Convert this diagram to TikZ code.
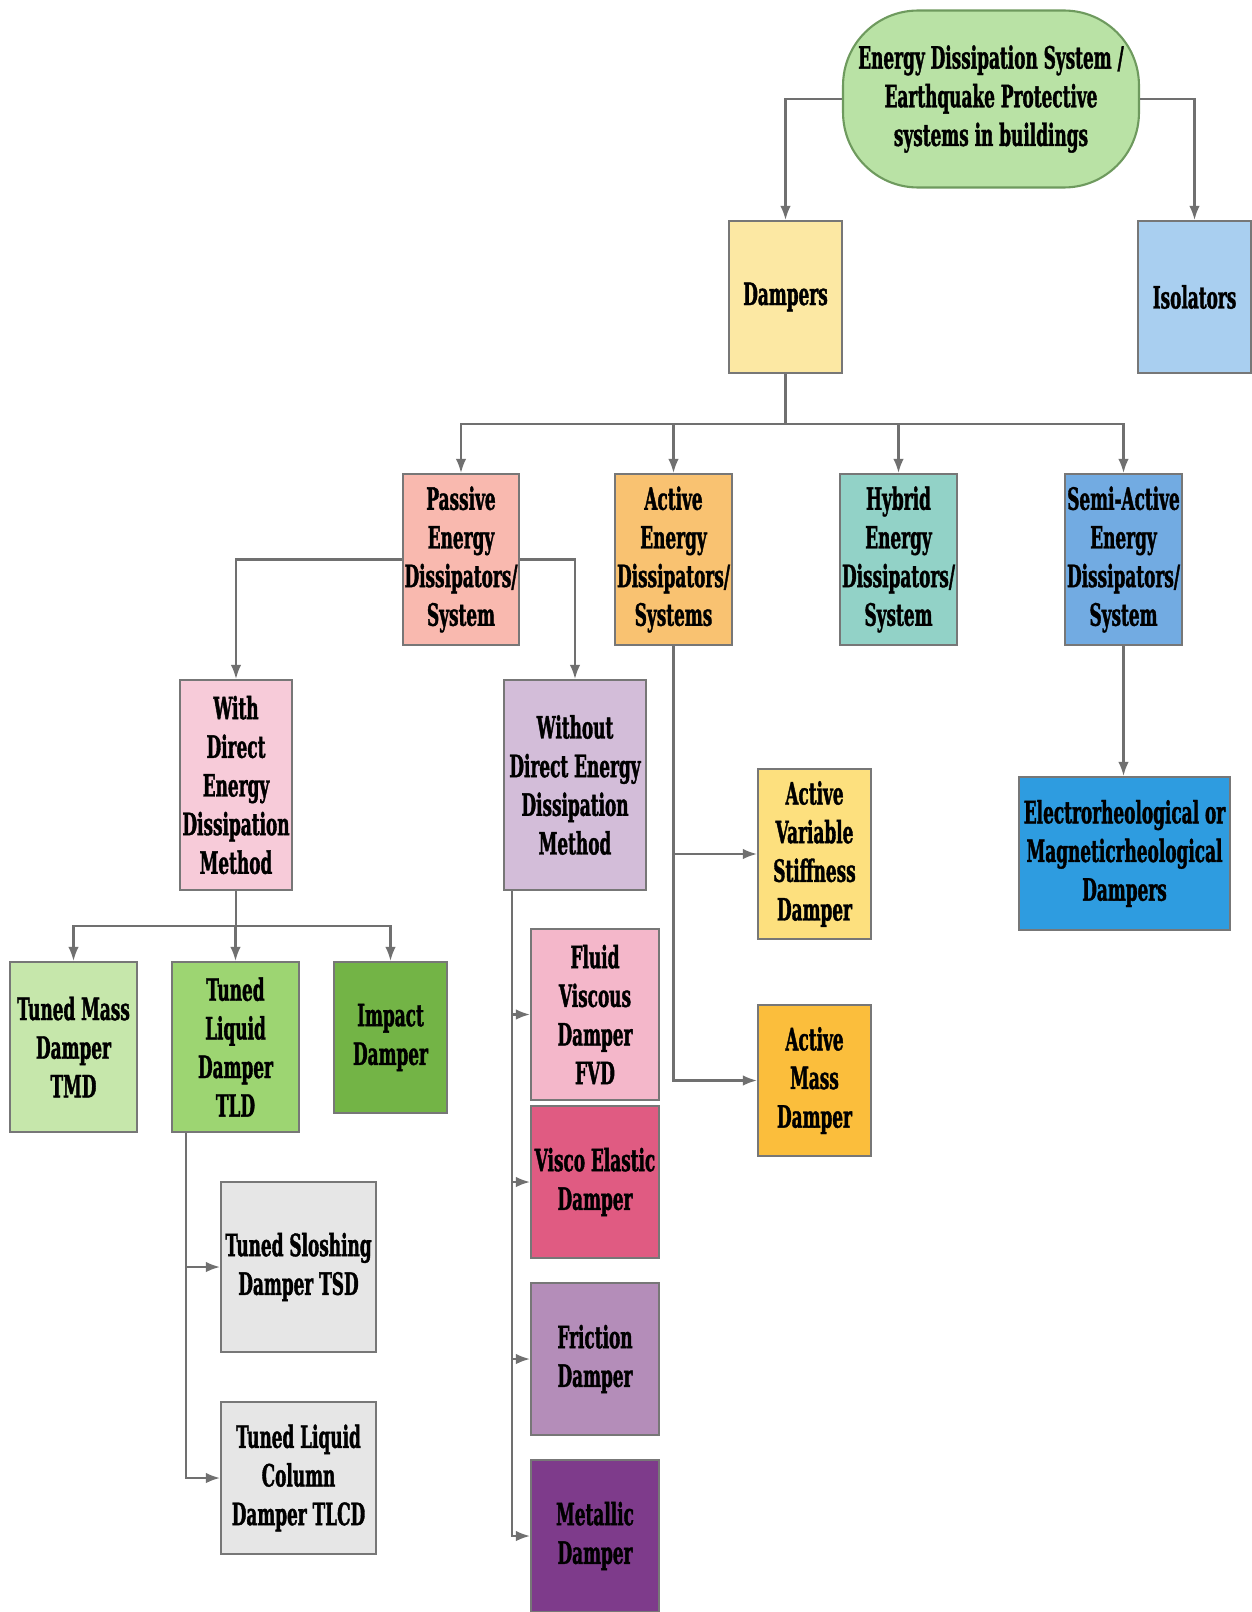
\documentclass[tikz,border=0pt]{standalone}
\usepackage{fontspec}
\setmainfont{DejaVu Serif}[FakeStretch=0.55, BoldFeatures={FakeBold=1.2}]
\usetikzlibrary{arrows.meta,calc}

\definecolor{topgreen}{HTML}{B9E2A5}
\definecolor{topline}{HTML}{6E9A5E}
\definecolor{dampyellow}{HTML}{FCE8A3}
\definecolor{isoblue}{HTML}{A9CFF0}
\definecolor{pasred}{HTML}{F9B9AF}
\definecolor{actorange}{HTML}{F9C271}
\definecolor{hybteal}{HTML}{92D2C7}
\definecolor{semiblue}{HTML}{72ABE2}
\definecolor{withpink}{HTML}{F7CBD9}
\definecolor{wodlav}{HTML}{D3BDD9}
\definecolor{avsdyellow}{HTML}{FDE07E}
\definecolor{amdamber}{HTML}{FBBE3C}
\definecolor{erblue}{HTML}{2E9CE0}
\definecolor{tmdgreen}{HTML}{C6E7AB}
\definecolor{tldgreen}{HTML}{9DD572}
\definecolor{impgreen}{HTML}{73B446}
\definecolor{tsdgray}{HTML}{E6E6E6}
\definecolor{fvdpink}{HTML}{F4B7CA}
\definecolor{vedpink}{HTML}{E05B82}
\definecolor{fricmauve}{HTML}{B48DB9}
\definecolor{metpurple}{HTML}{7E3B8B}
\definecolor{boxline}{HTML}{777777}
\definecolor{linkgray}{HTML}{707070}

\begin{document}
\begin{tikzpicture}[x=0.02cm, y=-0.02cm, font=\fontsize{17.5}{22}\selectfont\bfseries,
  box/.style={draw=boxline, line width=1.2pt, align=center, inner sep=1pt},
  link/.style={draw=linkgray, line width=1.2pt},
  arr/.style={link, -{Latex[length=8pt,width=6pt]}}]
\useasboundingbox (0,0) rectangle (1251,1612);
% Top
\node[box, fill=topgreen, draw=topline, rounded corners=1.5cm, minimum width=5.92cm, minimum height=3.54cm] (eds) at (991,99) {Energy Dissipation System /\\Earthquake Protective\\systems in buildings};
\node[box, fill=dampyellow, minimum width=2.26cm, minimum height=3.04cm] (damp) at (785.5,297) {Dampers};
\node[box, fill=isoblue, minimum width=2.26cm, minimum height=3.04cm] (iso) at (1194.5,297) {Isolators};
\draw[arr] (eds.west) -| (damp.north);
\draw[arr] (eds.east) -| (iso.north);
% Families of dampers
\foreach \name/\x/\col/\txt in {pas/461/pasred/{Passive\\Energy\\Dissipators/\\System},
    act/673.5/actorange/{Active\\Energy\\Dissipators/\\Systems},
    hyb/898.5/hybteal/{Hybrid\\Energy\\Dissipators/\\System},
    semi/1123.5/semiblue/{Semi-Active\\Energy\\Dissipators/\\System}} {
  \node[box, fill=\col, minimum width=2.24cm, minimum height=3.42cm] (\name) at (\x,559.5) {\txt};
  \draw[arr] (damp.south) -- ++(0,50) -| (\name.north);
}
% Passive
\node[box, fill=withpink, minimum width=2.24cm, minimum height=4.2cm] (with) at (236,785) {With\\Direct\\Energy\\Dissipation\\Method};
\node[box, fill=wodlav, minimum width=2.84cm, minimum height=4.2cm] (wod) at (575,785) {Without\\Direct Energy\\Dissipation\\Method};
\draw[arr] (pas.west) -| (with.north);
\draw[arr] (pas.east) -| (wod.north);
% Active
\node[box, fill=avsdyellow, minimum width=2.26cm, minimum height=3.4cm] (avsd) at (814.5,854) {Active\\Variable\\Stiffness\\Damper};
\node[box, fill=amdamber, minimum width=2.26cm, minimum height=3.02cm] (amd) at (814.5,1080.5) {Active\\Mass\\Damper};
\draw[arr] (act.south) |- (avsd.west);
\draw[arr] (act.south) |- (amd.west);
% Semi-active
\node[box, fill=erblue, minimum width=4.22cm, minimum height=3.06cm] (er) at (1124.5,853.5) {Electrorheological or\\Magneticrheological\\Dampers};
\draw[arr] (semi.south) -- (semi.south |- er.north);
% With direct energy dissipation
\node[box, fill=tmdgreen, minimum width=2.54cm, minimum height=3.4cm] (tmd) at (73.5,1047) {Tuned Mass\\Damper\\TMD};
\node[box, fill=tldgreen, minimum width=2.54cm, minimum height=3.4cm] (tld) at (235.5,1047) {Tuned\\Liquid\\Damper\\TLD};
\node[box, fill=impgreen, minimum width=2.26cm, minimum height=3.02cm] (imp) at (390.5,1037.5) {Impact\\Damper};
\foreach \name in {tmd,tld,imp}
  \draw[arr] (with.south) -- ++(0,35) -| (\name.north);
\node[box, fill=tsdgray, minimum width=3.1cm, minimum height=3.4cm] (tsd) at (298.5,1267) {Tuned Sloshing\\Damper TSD};
\node[box, fill=tsdgray, minimum width=3.1cm, minimum height=3.04cm] (tlcd) at (298.5,1478) {Tuned Liquid\\Column\\Damper TLCD};
\coordinate (tldbus) at ($(tld.south west)+(15,0)$);
\draw[arr] (tldbus) |- (tsd.west);
\draw[arr] (tldbus) |- (tlcd.west);
% Without direct energy dissipation
\coordinate (wodbus) at ($(wod.south west)+(9,0)$);
\foreach \name/\y/\h/\col/\txt in {fvd/1014.5/3.42/fvdpink/{Fluid\\Viscous\\Damper\\FVD},
    ved/1182/3.04/vedpink/{Visco Elastic\\Damper},
    fric/1359/3.04/fricmauve/{Friction\\Damper},
    met/1536/3.04/metpurple/{Metallic\\Damper}} {
  \node[box, fill=\col, minimum width=2.56cm, minimum height=\h cm] (\name) at (595,\y) {\txt};
  \draw[arr] (wodbus) |- (\name.west);
}
\end{tikzpicture}
\end{document}
